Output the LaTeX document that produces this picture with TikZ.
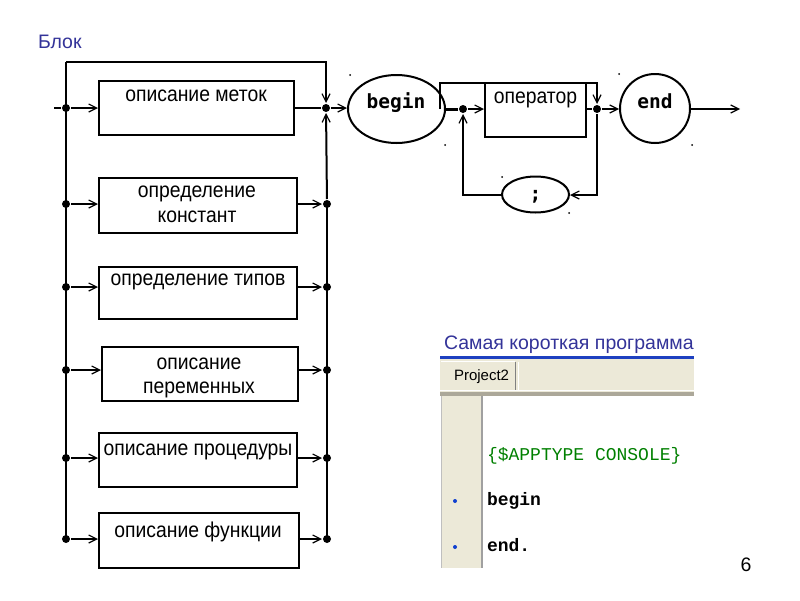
\documentclass[tikz,border=0pt]{standalone}
\usepackage{fontspec}
\setmainfont{Liberation Sans}
\newfontfamily\boxfont[FakeStretch=0.9]{Liberation Sans}
\newfontfamily\kwfont{DejaVu Sans Mono}
\newfontfamily\codefont{Liberation Mono}
\usetikzlibrary{arrows.meta,shapes.geometric}
\definecolor{titleblue}{RGB}{51,51,153}
\definecolor{barblue}{RGB}{30,64,192}
\definecolor{tabbg}{RGB}{236,233,216}
\definecolor{bandgrey}{RGB}{172,168,153}
\definecolor{gutterline}{RGB}{160,160,160}
\definecolor{codegreen}{RGB}{0,128,0}
\definecolor{dotblue}{RGB}{16,64,208}
\begin{document}
\begin{tikzpicture}[x=1pt,y=-1pt,
  every path/.style={line width=2pt},
  box/.style={draw, line width=2pt, inner sep=0pt},
  oval/.style={draw, ellipse, line width=2pt, inner sep=0pt},
  jdot/.style={circle, fill=black, minimum size=8pt, inner sep=0pt},
  arr/.style={-{Straight Barb[length=8pt,width=8pt,line width=1.2pt]}},
  btxt/.style={anchor=base, inner sep=0pt, font=\boxfont\fontsize{21.5}{24}\selectfont},
  kw/.style={anchor=base, inner sep=0pt, font=\kwfont\bfseries\fontsize{19.5}{22}\selectfont},
  code/.style={anchor=base west, inner sep=0pt, font=\codefont\fontsize{18}{20}\selectfont},
  ttl/.style={anchor=base west, inner sep=0pt, text=titleblue, font=\fontsize{19.5}{22}\selectfont}
]
\useasboundingbox (0,0) rectangle (800,600);
\fill[white] (0,0) rectangle (800,600);

% title
\node[ttl] (title) at (37,48) {Блок};

% boxes
\node[box, minimum width=195pt, minimum height=54pt] (b1) at (196.5,108) {};
\node[box, minimum width=198pt, minimum height=55pt] (b2) at (198,205.5) {};
\node[box, minimum width=198pt, minimum height=52pt] (b3) at (198,293) {};
\node[box, minimum width=196pt, minimum height=54pt] (b4) at (200,374) {};
\node[box, minimum width=198pt, minimum height=54pt] (b5) at (198,460) {};
\node[box, minimum width=200pt, minimum height=55pt] (b6) at (199,540.5) {};

\node[btxt] (t1) at (196,101) {описание меток};
\node[btxt] (t2a) at (197,197) {определение};
\node[btxt] (t2b) at (197,222) {констант};
\node[btxt] (t3) at (198,285) {определение типов};
\node[btxt] (t4a) at (199,369) {описание};
\node[btxt] (t4b) at (199,393) {переменных};
\node[btxt] (t5) at (198,455) {описание процедуры};
\node[btxt] (t6) at (198,537) {описание функции};

% junction dots
\node[jdot] (L1) at (66,108) {};
\node[jdot] (L2) at (66,204) {};
\node[jdot] (L3) at (66,287) {};
\node[jdot] (L4) at (66,370) {};
\node[jdot] (L5) at (66,458) {};
\node[jdot] (L6) at (66,539) {};
\node[jdot] (R1) at (326,108) {};
\node[jdot] (R2) at (327,204) {};
\node[jdot] (R3) at (327,287) {};
\node[jdot] (R4) at (327,370) {};
\node[jdot] (R5) at (327,458) {};
\node[jdot] (R6) at (327,539) {};

\coordinate (in) at (54,108);
\coordinate (tl) at (66,62);
\coordinate (tr) at (326,62);

% left side
\draw (in) -- (L1);
\draw (tl) -- (L6.center);
\draw[arr] (L1) -- (L1 -| b1.west);
\draw[arr] (L2) -- (L2 -| b2.west);
\draw[arr] (L3) -- (L3 -| b3.west);
\draw[arr] (L4) -- (L4 -| b4.west);
\draw[arr] (L5) -- (L5 -| b5.west);
\draw[arr] (L6) -- (L6 -| b6.west);

% top bypass
\draw[arr] (tl) -- (tr) -- (R1);

% right side
\draw (R1 -| b1.east) -- (R1);
\draw[arr] (R2 -| b2.east) -- (R2);
\draw[arr] (R3 -| b3.east) -- (R3);
\draw[arr] (R4 -| b4.east) -- (R4);
\draw[arr] (R5 -| b5.east) -- (R5);
\draw[arr] (R6 -| b6.east) -- (R6);
\draw (R6.center) -- (R2.center);
\draw[arr] (R2) -- (R1);

% right diagram
\node[oval, minimum width=97pt, minimum height=68pt] (begin) at (396.5,109) {};
\node[kw] (begintxt) at (396,108) {begin};
\node[box, minimum width=101pt, minimum height=54pt] (op) at (535.5,110) {};
\node[btxt] (optxt) at (535.5,103) {оператор};
\node[oval, minimum width=70pt, minimum height=69pt] (end) at (655,108.5) {};
\node[kw] (endtxt) at (655,108) {end};
\node[oval, minimum width=67pt, minimum height=36pt] (semi) at (535.5,194.5) {};
\node[kw] (semitxt) at (535.5,200) {;};
\node[jdot] (J1) at (463,109) {};
\node[jdot] (J2) at (597,109) {};

\coordinate (out) at (740,109);
\coordinate (bp1) at (440,109);
\coordinate (bp2) at (440,83);
\coordinate (bp3) at (597,83);
\coordinate (lp1) at (597,195);
\coordinate (lp2) at (463,195);

\draw[arr] (R1) -- (R1 -| begin.west);
\draw[line width=3pt] (begin.east) -- (J1);
\draw[arr] (J1) -- (J1 -| op.west);
\draw (J2 -| op.east) -- (J2);
\draw[arr] (J2) -- (J2 -| end.west);
\draw[arr] (end.east |- out) -- (out);
\draw[arr] (bp1) -- (bp2) -- (bp3) -- (J2);
\draw[arr] (J2) -- (lp1) -- (lp1 -| semi.east);
\draw[arr] (lp2 -| semi.west) -- (lp2) -- (J1);

% tiny marks near ovals
\fill (350,75) circle (1);
\fill (445,145) circle (1);
\fill (619,74) circle (1);
\fill (692,145) circle (1);
\fill (502,177) circle (1);
\fill (569,213) circle (1);

% lower right: program screenshot
\node[ttl] (prog) at (443,349) {Самая короткая программа};
\fill[tabbg] (440,359) rectangle (694,392);
\draw[white, line width=1pt] (441,361.5) -- (515,361.5);
\draw[gray, line width=1pt] (515.5,362) -- (515.5,390);
\draw[white, line width=1pt] (518,362) -- (518,390);
\draw[white, line width=1pt] (440,390) -- (694,390);
\fill[bandgrey] (440,392) rectangle (694,396);
\draw[line width=2.5pt, barblue] (440,357.5) -- (694,357.5);
\node[anchor=base west, inner sep=0pt, font=\fontsize{15}{17}\selectfont] (tab) at (453,380) {Project2};
\fill[tabbg] (441,396) rectangle (482,568);
\draw[lightgray, line width=1pt] (441.5,396) -- (441.5,568);
\draw[gutterline, line width=1.5pt] (482,396) -- (482,568);
\node[code, text=codegreen] (c1) at (486,460) {\{\$APPTYPE CONSOLE\}};
\node[code, font=\codefont\bfseries\fontsize{18}{20}\selectfont] (c2) at (486,505) {begin};
\node[code, font=\codefont\bfseries\fontsize{18}{20}\selectfont] (c3) at (486,551) {end.};
\fill[dotblue] (455,501) circle (2);
\fill[dotblue] (455,547) circle (2);

% page number
\node[anchor=base, inner sep=0pt, font=\fontsize{19.5}{22}\selectfont] (pg) at (746,571) {6};
\end{tikzpicture}
\end{document}
